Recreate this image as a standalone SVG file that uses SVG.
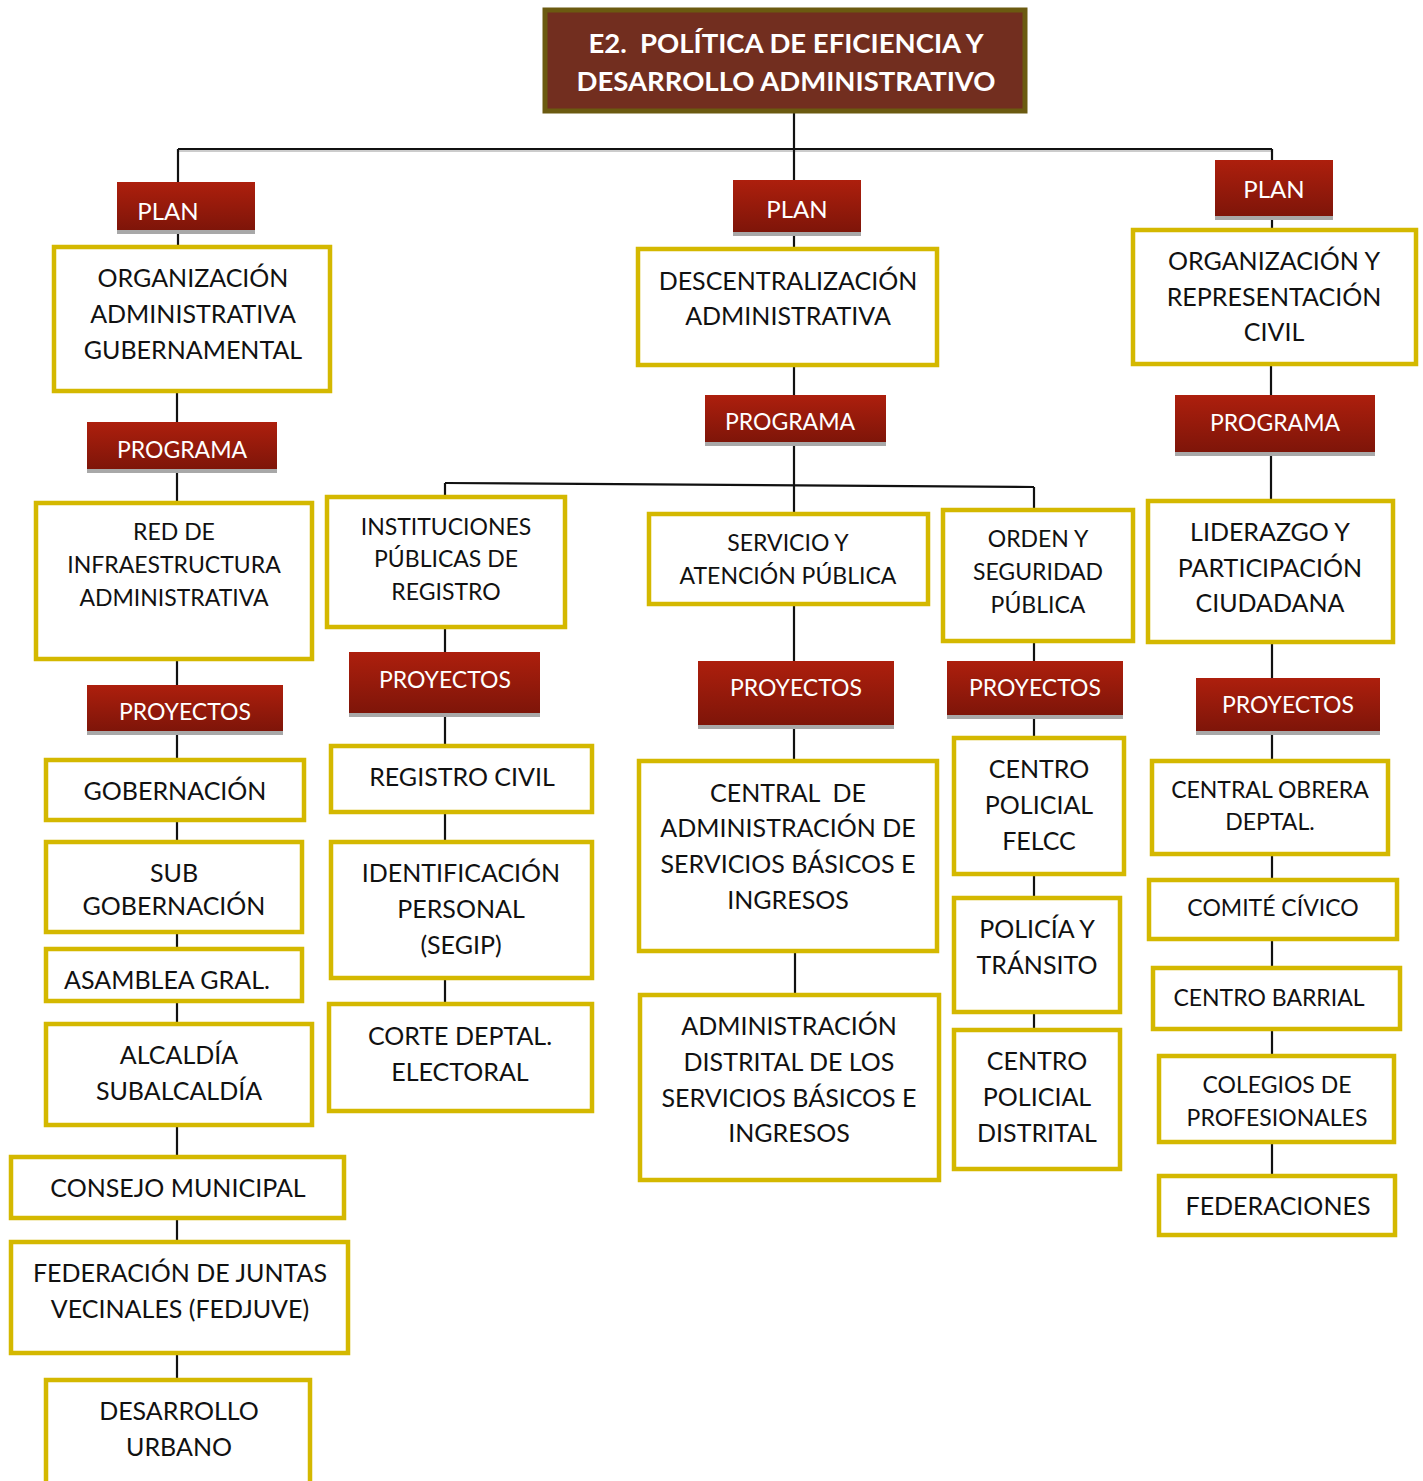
<svg xmlns="http://www.w3.org/2000/svg" width="1423" height="1481" viewBox="0 0 1423 1481">
<style>
.bx{fill:#fff;stroke:#d4b800;stroke-width:4.5}
.rd{fill:url(#rg)}
.sh{fill:#a8a8a8}
.t{font-family:Lato,"Open Sans",sans-serif;font-size:25px;fill:#111;text-anchor:middle;dominant-baseline:central}
.s{font-size:23px}
.w{font-family:Lato,"Open Sans",sans-serif;font-size:23px;fill:#fff;text-anchor:middle;dominant-baseline:central}
.c line{stroke:#111;stroke-width:2.2}
</style>
<defs>
<linearGradient id="rg" x1="0" y1="0" x2="0" y2="1">
<stop offset="0" stop-color="#ad1f0d"/>
<stop offset="1" stop-color="#7e1509"/>
</linearGradient>
</defs>
<g class="c" id="connectors">
<line x1="178" y1="151" x2="1272" y2="151" style="stroke:#ccc;stroke-width:2"/>
<line x1="178" y1="149" x2="1272" y2="149"/>
<line x1="794" y1="113" x2="794" y2="760"/>
<line x1="178" y1="149" x2="178" y2="246"/>
<line x1="177" y1="392" x2="177" y2="502"/>
<line x1="177" y1="660" x2="177" y2="1379"/>
<line x1="445" y1="483" x2="1034" y2="487"/>
<line x1="445" y1="483" x2="445" y2="1003"/>
<line x1="795" y1="952" x2="795" y2="994"/>
<line x1="1034" y1="487" x2="1034" y2="1029"/>
<line x1="1272" y1="149" x2="1272" y2="229"/>
<line x1="1271" y1="365" x2="1271" y2="500"/>
<line x1="1272" y1="643" x2="1272" y2="1175"/>
</g>
<g id="title">
<rect x="545" y="10" width="480" height="101" fill="#722e1f" stroke="#6b5a10" stroke-width="5"/>
<text class="w" x="786" y="42" style="font-weight:bold;font-size:27.5px" xml:space="preserve">E2.  POLÍTICA DE EFICIENCIA Y</text>
<text class="w" x="786" y="80" style="font-weight:bold;font-size:27.5px">DESARROLLO ADMINISTRATIVO</text>
</g>
<!-- Left column -->
<g id="plan1"><rect class="sh" x="117" y="186" width="138" height="48"/><rect class="rd" x="117" y="182" width="138" height="48"/><text class="w" x="168" y="210" style="font-size:24px">PLAN</text></g>
<g id="n_org_adm"><rect class="bx" x="54" y="247" width="276" height="144"/><text class="t" x="193" y="277">ORGANIZACIÓN</text><text class="t" x="193" y="313">ADMINISTRATIVA</text><text class="t" x="193" y="349">GUBERNAMENTAL</text></g>
<g id="prog1"><rect class="sh" x="87" y="426" width="190" height="47"/><rect class="rd" x="87" y="422" width="190" height="47"/><text class="w" x="182" y="449">PROGRAMA</text></g>
<g id="n_red"><rect class="bx" x="36" y="503" width="276" height="156"/><text class="t s" x="174" y="531">RED DE</text><text class="t s" x="174" y="564">INFRAESTRUCTURA</text><text class="t s" x="174" y="597">ADMINISTRATIVA</text></g>
<g id="proy1"><rect class="sh" x="87" y="689" width="196" height="46"/><rect class="rd" x="87" y="685" width="196" height="46"/><text class="w" x="185" y="711">PROYECTOS</text></g>
<g id="n_gob"><rect class="bx" x="46" y="760" width="258" height="60"/><text class="t" x="175" y="790">GOBERNACIÓN</text></g>
<g id="n_subgob"><rect class="bx" x="46" y="842" width="256" height="90"/><text class="t" x="174" y="872">SUB</text><text class="t" x="174" y="905">GOBERNACIÓN</text></g>
<g id="n_asam"><rect class="bx" x="46" y="949" width="256" height="52"/><text class="t" x="167" y="979">ASAMBLEA GRAL.</text></g>
<g id="n_alc"><rect class="bx" x="46" y="1024" width="266" height="101"/><text class="t" x="179" y="1054">ALCALDÍA</text><text class="t" x="179" y="1090">SUBALCALDÍA</text></g>
<g id="n_consejo"><rect class="bx" x="11" y="1157" width="333" height="61"/><text class="t" x="178" y="1187">CONSEJO MUNICIPAL</text></g>
<g id="n_fedjuve"><rect class="bx" x="11" y="1242" width="337" height="111"/><text class="t" x="180" y="1272">FEDERACIÓN DE JUNTAS</text><text class="t" x="180" y="1308">VECINALES (FEDJUVE)</text></g>
<g id="n_desurb"><rect class="bx" x="46" y="1380" width="264" height="120"/><text class="t" x="179" y="1410">DESARROLLO</text><text class="t" x="179" y="1446">URBANO</text></g>
<!-- Middle column -->
<g id="plan2"><rect class="sh" x="733" y="184" width="128" height="52"/><rect class="rd" x="733" y="180" width="128" height="52"/><text class="w" x="797" y="208" style="font-size:24px">PLAN</text></g>
<g id="n_desc"><rect class="bx" x="638" y="249" width="299" height="116"/><text class="t" x="788" y="280">DESCENTRALIZACIÓN</text><text class="t" x="788" y="315">ADMINISTRATIVA</text></g>
<g id="prog2"><rect class="sh" x="705" y="399" width="181" height="47"/><rect class="rd" x="705" y="395" width="181" height="47"/><text class="w" x="790" y="421">PROGRAMA</text></g>
<g id="n_inst"><rect class="bx" x="327" y="497" width="238" height="130"/><text class="t s" x="446" y="526">INSTITUCIONES</text><text class="t s" x="446" y="558">PÚBLICAS DE</text><text class="t s" x="446" y="591">REGISTRO</text></g>
<g id="proy2"><rect class="sh" x="349" y="652" width="191" height="65"/><rect class="rd" x="349" y="652" width="191" height="61"/><text class="w" x="445" y="679">PROYECTOS</text></g>
<g id="n_regciv"><rect class="bx" x="331" y="746" width="261" height="66"/><text class="t" x="462" y="776">REGISTRO CIVIL</text></g>
<g id="n_segip"><rect class="bx" x="331" y="842" width="261" height="136"/><text class="t" x="461" y="872">IDENTIFICACIÓN</text><text class="t" x="461" y="908">PERSONAL</text><text class="t" x="461" y="944">(SEGIP)</text></g>
<g id="n_corte"><rect class="bx" x="329" y="1004" width="263" height="107"/><text class="t" x="460" y="1035">CORTE DEPTAL.</text><text class="t" x="460" y="1071">ELECTORAL</text></g>
<g id="n_serv"><rect class="bx" x="649" y="514" width="279" height="90"/><text class="t s" x="788" y="542">SERVICIO Y</text><text class="t s" x="788" y="575">ATENCIÓN PÚBLICA</text></g>
<g id="proy3"><rect class="sh" x="698" y="661" width="196" height="68"/><rect class="rd" x="698" y="661" width="196" height="64"/><text class="w" x="796" y="687">PROYECTOS</text></g>
<g id="n_central"><rect class="bx" x="639" y="761" width="298" height="190"/><text class="t" x="788" y="792" xml:space="preserve">CENTRAL  DE</text><text class="t" x="788" y="827">ADMINISTRACIÓN DE</text><text class="t" x="788" y="863">SERVICIOS BÁSICOS E</text><text class="t" x="788" y="899">INGRESOS</text></g>
<g id="n_distr"><rect class="bx" x="640" y="995" width="299" height="185"/><text class="t" x="789" y="1025">ADMINISTRACIÓN</text><text class="t" x="789" y="1061">DISTRITAL DE LOS</text><text class="t" x="789" y="1097">SERVICIOS BÁSICOS E</text><text class="t" x="789" y="1132">INGRESOS</text></g>
<g id="n_orden"><rect class="bx" x="943" y="510" width="190" height="131"/><text class="t s" x="1038" y="538">ORDEN Y</text><text class="t s" x="1038" y="571">SEGURIDAD</text><text class="t s" x="1038" y="604">PÚBLICA</text></g>
<g id="proy4"><rect class="sh" x="947" y="661" width="176" height="58"/><rect class="rd" x="947" y="661" width="176" height="54"/><text class="w" x="1035" y="687">PROYECTOS</text></g>
<g id="n_felcc"><rect class="bx" x="954" y="738" width="170" height="136"/><text class="t" x="1039" y="768">CENTRO</text><text class="t" x="1039" y="804">POLICIAL</text><text class="t" x="1039" y="840">FELCC</text></g>
<g id="n_transito"><rect class="bx" x="954" y="898" width="166" height="114"/><text class="t" x="1037" y="928">POLICÍA Y</text><text class="t" x="1037" y="964">TRÁNSITO</text></g>
<g id="n_distrital"><rect class="bx" x="954" y="1030" width="166" height="139"/><text class="t" x="1037" y="1060">CENTRO</text><text class="t" x="1037" y="1096">POLICIAL</text><text class="t" x="1037" y="1132">DISTRITAL</text></g>
<!-- Right column -->
<g id="plan3"><rect class="sh" x="1215" y="164" width="118" height="56"/><rect class="rd" x="1215" y="160" width="118" height="56"/><text class="w" x="1274" y="188" style="font-size:24px">PLAN</text></g>
<g id="n_orgrep"><rect class="bx" x="1133" y="230" width="283" height="134"/><text class="t" x="1274" y="260">ORGANIZACIÓN Y</text><text class="t" x="1274" y="296">REPRESENTACIÓN</text><text class="t" x="1274" y="331">CIVIL</text></g>
<g id="prog3"><rect class="sh" x="1175" y="399" width="200" height="57"/><rect class="rd" x="1175" y="395" width="200" height="57"/><text class="w" x="1275" y="422">PROGRAMA</text></g>
<g id="n_lid"><rect class="bx" x="1148" y="501" width="245" height="141"/><text class="t" x="1270" y="531">LIDERAZGO Y</text><text class="t" x="1270" y="567">PARTICIPACIÓN</text><text class="t" x="1270" y="602">CIUDADANA</text></g>
<g id="proy5"><rect class="sh" x="1196" y="682" width="184" height="53"/><rect class="rd" x="1196" y="678" width="184" height="53"/><text class="w" x="1288" y="704">PROYECTOS</text></g>
<g id="n_cob"><rect class="bx" x="1152" y="761" width="236" height="93"/><text class="t s" x="1270" y="789">CENTRAL OBRERA</text><text class="t s" x="1270" y="821">DEPTAL.</text></g>
<g id="n_civico"><rect class="bx" x="1149" y="880" width="248" height="59"/><text class="t s" x="1273" y="907">COMITÉ CÍVICO</text></g>
<g id="n_barrial"><rect class="bx" x="1153" y="968" width="247" height="61"/><text class="t s" x="1269" y="997">CENTRO BARRIAL</text></g>
<g id="n_colegios"><rect class="bx" x="1159" y="1056" width="235" height="86"/><text class="t s" x="1277" y="1084">COLEGIOS DE</text><text class="t s" x="1277" y="1117">PROFESIONALES</text></g>
<g id="n_feds"><rect class="bx" x="1159" y="1176" width="236" height="59"/><text class="t" x="1278" y="1205">FEDERACIONES</text></g>
</svg>
